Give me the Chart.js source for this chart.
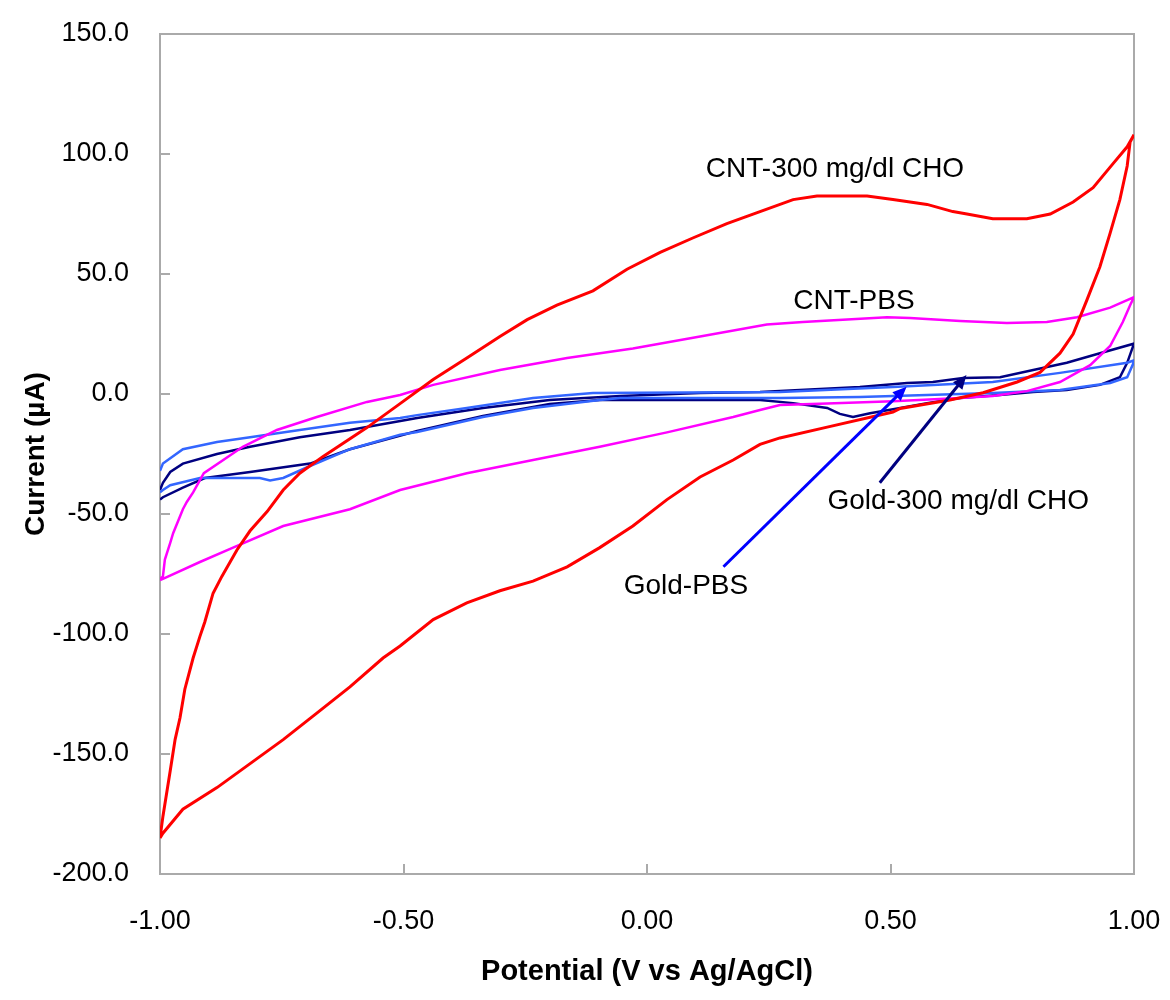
<!DOCTYPE html>
<html>
<head>
<meta charset="utf-8">
<script src="https://cdn.jsdelivr.net/npm/chart.js@4.4.1/dist/chart.umd.min.js"></script>
<style>
  html, body { margin: 0; padding: 0; background: #fff; }
</style>
</head>
<body>
<canvas id="cv" width="1170" height="1000"></canvas>
<script>
// CNT electrode, 300 mg/dl cholesterol (forward sweep then reverse)
const cntChoV = [-1.000, -0.994, -0.979, -0.969, -0.959, -0.949, -0.932, -0.918, -0.908, -0.891, -0.873, -0.842, -0.815, -0.780, -0.747, -0.713, -0.665, -0.575, -0.507, -0.439, -0.370, -0.302, -0.246, -0.185, -0.111, -0.041, 0.027, 0.094, 0.164, 0.232, 0.300, 0.349, 0.452, 0.505, 0.575, 0.628, 0.657, 0.710, 0.780, 0.828, 0.875, 0.916, 0.957, 0.986, 1.000,
  0.992, 0.986, 0.971, 0.951, 0.930, 0.903, 0.875, 0.848, 0.807, 0.760, 0.690, 0.622, 0.520, 0.505, 0.370, 0.273, 0.232, 0.177, 0.109, 0.041, -0.029, -0.097, -0.164, -0.234, -0.302, -0.370, -0.439, -0.507, -0.542, -0.610, -0.678, -0.747, -0.815, -0.883, -0.953, -0.994, -1.000];
const cntChoI = [-185, -176, -157, -144, -135, -123, -110, -101, -95, -83, -76, -65, -57, -49, -40, -33, -26, -14, -4, 6, 15, 24, 31, 37, 43, 52, 59, 65, 71, 76, 81, 82.5, 82.5, 81, 79, 76, 75, 73, 73, 75, 80, 86, 96, 103, 108,
  105, 95, 81, 67, 53, 39, 25, 17, 9, 5, 0.5, -2.5, -6, -7.5, -13.8, -18.3, -21, -27.5, -34.6, -44, -55, -64, -72, -78, -82, -87, -94, -105, -110, -122, -133, -144, -154, -164, -173, -183, -185];

// CNT electrode in PBS
const cntPbsV = [-1.000, -0.994, -0.990, -0.979, -0.973, -0.953, -0.945, -0.932, -0.910, -0.830, -0.760, -0.678, -0.575, -0.507, -0.439, -0.302, -0.164, -0.029, 0.109, 0.246, 0.320, 0.493, 0.540, 0.643, 0.739, 0.821, 0.883, 0.951, 1.000,
  0.992, 0.977, 0.951, 0.910, 0.848, 0.780, 0.710, 0.643, 0.505, 0.370, 0.273, 0.232, 0.177, 0.041, -0.097, -0.234, -0.370, -0.507, -0.610, -0.747, -0.850, -0.918, -0.994, -1.000];
const cntPbsI = [-77, -76, -69, -62, -58, -48, -45, -41, -33, -22, -15, -9.6, -3.3, -0.4, 3.8, 10, 15, 19, 24, 29, 30, 32, 31.7, 30.4, 29.6, 30, 32, 36, 40.4,
  37, 30, 20, 12, 5, 1.2, -0.8, -1.7, -3, -4, -4.6, -6.7, -9.6, -16, -22, -27.5, -33, -40, -48, -55, -64, -70, -77, -77.5];

// Gold electrode in PBS
const goldPbsV = [-1.000, -0.994, -0.953, -0.883, -0.815, -0.713, -0.610, -0.507, -0.472, -0.370, -0.234, -0.111, 0.273, 0.505, 0.710, 0.848, 0.986, 1.000,
  0.998, 0.986, 0.951, 0.848, 0.710, 0.575, 0.437, 0.273, -0.055, -0.097, -0.234, -0.337, -0.472, -0.507, -0.610, -0.692, -0.747, -0.774, -0.795, -0.918, -0.979, -0.994, -1.000];
const goldPbsI = [-32, -29, -23, -20, -18, -15, -12, -10, -8.8, -5.8, -1.7, 0.4, 0.8, 2.9, 5, 8.8, 13, 14,
  12.5, 7, 4.6, 1.7, 0.4, -0.4, -1.2, -1.7, -1.7, -2.5, -5.8, -9.6, -15.8, -17, -23, -30, -35, -36, -35, -35, -38, -40, -41];

// Gold electrode, 300 mg/dl cholesterol
const goldChoV = [-1.000, -0.994, -0.979, -0.953, -0.883, -0.815, -0.713, -0.610, -0.472, -0.337, -0.200, -0.055, 0.109, 0.232, 0.437, 0.534, 0.587, 0.649, 0.725, 0.793, 0.862, 0.930, 1.000,
  0.986, 0.971, 0.930, 0.862, 0.793, 0.725, 0.643, 0.575, 0.520, 0.458, 0.423, 0.396, 0.370, 0.300, 0.232, -0.097, -0.200, -0.337, -0.472, -0.610, -0.692, -0.815, -0.908, -0.953, -0.994, -1.000];
const goldChoI = [-40, -37, -32.5, -29, -25, -22, -18, -15, -10, -5.8, -2.5, -0.8, 0.4, 0.8, 2.9, 4.6, 5, 6.7, 7, 10, 13, 17, 21,
  13, 7, 3.8, 1.7, 0.8, -0.4, -1.7, -3.8, -5.8, -8, -9.6, -8.3, -5.8, -3.8, -2.5, -2.5, -4.2, -9.2, -15.4, -23, -29, -32.5, -35, -39, -43, -44];

const seriesNames = ['CNT-300 mg/dl CHO', 'CNT-PBS', 'Gold-PBS', 'Gold-300 mg/dl CHO'];
const seriesColors = ['#FF0000', '#FF00FF', '#3366FF', '#000080'];

// text labels and arrows, in data units
const notes = [
  { text: 'CNT-300 mg/dl CHO', x: 0.386, y: 93.8 },
  { text: 'CNT-PBS', x: 0.425, y: 38.8 },
  { text: 'Gold-300 mg/dl CHO', x: 0.639, y: -44.6 },
  { text: 'Gold-PBS', x: 0.080, y: -80 }
];
const arrows = [
  { from: [0.157, -72], to: [0.533, 3.0], color: '#0000FF' },
  { from: [0.478, -37], to: [0.656, 7.9], color: '#000080' }
];

const FONT = 'Liberation Sans, Arial, Helvetica, sans-serif';
const toXY = (vs, is) => vs.map((v, i) => ({ x: v, y: is[i] }));

// keep the plot box where the layout padding says, no extra room for edge labels
const noEdgePadding = s => {
  s.paddingTop = 0; s.paddingBottom = 0; s.paddingLeft = 0; s.paddingRight = 0;
};

const overlay = {
  id: 'overlay',
  beforeDatasetsDraw(chart) {
    const { ctx, chartArea: a, scales: { x, y } } = chart;
    ctx.save();
    ctx.strokeStyle = '#AAAAAA';
    ctx.lineWidth = 2;
    ctx.strokeRect(a.left, a.top, a.right - a.left, a.bottom - a.top);
    ctx.beginPath();
    y.ticks.forEach(t => {
      const py = Math.round(y.getPixelForValue(t.value));
      ctx.moveTo(a.left, py); ctx.lineTo(a.left + 10, py);
    });
    x.ticks.forEach(t => {
      const px = Math.round(x.getPixelForValue(t.value));
      ctx.moveTo(px, a.bottom); ctx.lineTo(px, a.bottom - 10);
    });
    ctx.stroke();
    ctx.restore();
  },
  afterDatasetsDraw(chart) {
    const { ctx, scales: { x, y } } = chart;
    ctx.save();
    arrows.forEach(ar => {
      const x0 = x.getPixelForValue(ar.from[0]), y0 = y.getPixelForValue(ar.from[1]);
      const x1 = x.getPixelForValue(ar.to[0]), y1 = y.getPixelForValue(ar.to[1]);
      const ang = Math.atan2(y1 - y0, x1 - x0);
      const len = 14, hw = 6;
      ctx.strokeStyle = ar.color;
      ctx.fillStyle = ar.color;
      ctx.lineWidth = 3;
      ctx.beginPath();
      ctx.moveTo(x0, y0);
      ctx.lineTo(x1 - Math.cos(ang) * len * 0.8, y1 - Math.sin(ang) * len * 0.8);
      ctx.stroke();
      ctx.beginPath();
      ctx.moveTo(x1, y1);
      ctx.lineTo(x1 - Math.cos(ang) * len - Math.sin(ang) * hw, y1 - Math.sin(ang) * len + Math.cos(ang) * hw);
      ctx.lineTo(x1 - Math.cos(ang) * len + Math.sin(ang) * hw, y1 - Math.sin(ang) * len - Math.cos(ang) * hw);
      ctx.closePath();
      ctx.fill();
    });
    ctx.fillStyle = '#000';
    ctx.font = '28px ' + FONT;
    ctx.textAlign = 'center';
    ctx.textBaseline = 'middle';
    notes.forEach(n => ctx.fillText(n.text, x.getPixelForValue(n.x), y.getPixelForValue(n.y)));
    ctx.restore();
  }
};

const allV = [cntChoV, cntPbsV, goldPbsV, goldChoV];
const allI = [cntChoI, cntPbsI, goldPbsI, goldChoI];

new Chart(document.getElementById('cv'), {
  type: 'scatter',
  data: {
    datasets: seriesNames.map((name, k) => ({
      label: name,
      data: toXY(allV[k], allI[k]),
      showLine: true,
      borderColor: seriesColors[k],
      backgroundColor: seriesColors[k],
      borderWidth: k === 0 ? 3 : 2.5,
      pointRadius: 0,
      tension: 0
    }))
  },
  options: {
    responsive: false,
    animation: false,
    devicePixelRatio: 1,
    layout: { padding: { top: 34, right: 36, left: 0, bottom: 0 } },
    plugins: { legend: { display: false }, tooltip: { enabled: false } },
    scales: {
      x: {
        type: 'linear', min: -1, max: 1,
        grid: { display: false, drawTicks: false },
        border: { display: false },
        ticks: { stepSize: 0.5, padding: 31, color: '#000', font: { family: FONT, size: 27 }, callback: v => v.toFixed(2) },
        title: { display: true, text: 'Potential (V vs Ag/AgCl)', color: '#000', font: { family: FONT, size: 29, weight: 'bold' }, padding: { top: 0, bottom: 11 } },
        afterFit: s => { s.height = 126; noEdgePadding(s); }
      },
      y: {
        type: 'linear', min: -200, max: 150,
        grid: { display: false, drawTicks: false },
        border: { display: false },
        ticks: { stepSize: 50, padding: 31, color: '#000', font: { family: FONT, size: 27 }, callback: v => v.toFixed(1) },
        title: { display: true, text: 'Current (\u00B5A)', color: '#000', font: { family: FONT, size: 28, weight: 'bold' }, padding: { top: 19, bottom: 0 } },
        afterFit: s => { s.width = 160; noEdgePadding(s); }
      }
    }
  },
  plugins: [overlay]
});
</script>
</body>
</html>
